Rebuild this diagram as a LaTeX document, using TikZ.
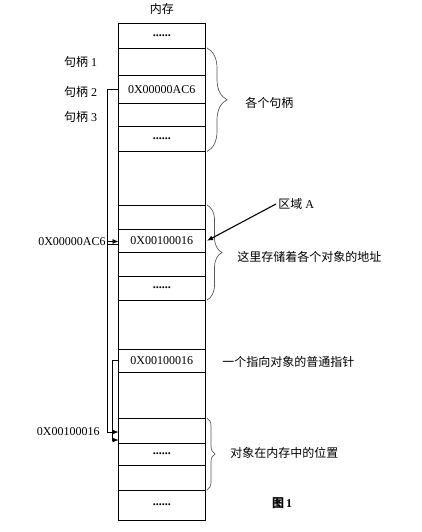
\documentclass[tikz,border=0pt]{standalone}
\usepackage{fontspec}
\setmainfont{Liberation Serif}
\newfontfamily\cjk{Noto Sans CJK SC}
\usetikzlibrary{positioning, decorations.pathreplacing, arrows.meta}

\tikzset{
	cell/.style={draw, minimum width=86.5bp, inner sep=0pt, outer sep=0pt, line width=0.8bp},
	lbl/.style={inner sep=2bp},
	brc/.style={decorate, decoration={brace, amplitude=#1}, draw=black!65, line width=0.7bp},
}

\begin{document}
\begin{tikzpicture}[x=1bp, y=-1bp, >={Latex[length=6bp, width=5bp]}, line width=0.8bp, node distance=0pt, font=\fontsize{12bp}{14bp}\selectfont]
	\useasboundingbox (0,0) rectangle (421,532);
	
	% memory column
	\node[cell, minimum height=25bp] (m1) at (161.75,35.5) {\textbf{......}};
	\node[cell, minimum height=27.5bp, below=of m1] (m2) {};
	\node[cell, minimum height=27.5bp, below=of m2] (m3) {0X00000AC6};
	\node[cell, minimum height=23bp, below=of m3] (m4) {};
	\node[cell, minimum height=25.5bp, below=of m4] (m5) {\textbf{......}};
	\node[cell, minimum height=53.5bp, below=of m5] (gap1) {};
	\node[cell, minimum height=24bp, below=of gap1] (a1) {};
	\node[cell, minimum height=23.5bp, below=of a1] (a2) {0X00100016};
	\node[cell, minimum height=23.5bp, below=of a2] (a3) {};
	\node[cell, minimum height=24bp, below=of a3] (a4) {\textbf{......}};
	\node[cell, minimum height=49bp, below=of a4] (gap2) {};
	\node[cell, minimum height=23bp, below=of gap2] (p1) {0X00100016};
	\node[cell, minimum height=46bp, below=of p1] (gap3) {};
	\node[cell, minimum height=25bp, below=of gap3] (o1) {};
	\node[cell, minimum height=22bp, below=of o1] (o2) {\textbf{......}};
	\node[cell, minimum height=25bp, below=of o2] (o3) {};
	\node[cell, minimum height=30bp, below=of o3] (o4) {\textbf{......}};
	
	\node[lbl, above=6bp of m1] (mem) {\cjk 内存};
	
	% handles
	\node[lbl, left=19bp of m2, yshift=-0.5bp] (h1) {{\cjk 句柄} 1};
	\node[lbl, left=19bp of m3, yshift=-3bp] (h2) {{\cjk 句柄} 2};
	\node[lbl, left=19bp of m4, yshift=-2bp] (h3) {{\cjk 句柄} 3};
	
	\node[lbl, anchor=east] (addrA) at (108,241.5) {0X00000AC6};
	\node[lbl, anchor=east] (addrO) at (102,431.7) {0X00100016};
	
	\draw[->] (m3.west) -- ++(-11.5,0) |- ([yshift=-14bp]o1.north west);
	\draw ([yshift=-4bp]a2.west) -- ++(-11.5,0);
	\draw[->] (addrA.east) -- (addrA.east -| a2.west);
	\draw[->] (p1.west) -- ++(-6.5,0) |- ([yshift=-22bp]o1.north west);
	
	% braces and notes
	\draw[brc=20bp] ([xshift=2bp]m2.north east) -- ([xshift=2bp]m5.south east);
	\draw[brc=15bp] ([xshift=2bp]a1.north east) -- ([xshift=2bp]a4.south east);
	\draw[brc=8bp] ([xshift=2bp]o1.north east) -- ([xshift=2bp]o3.south east);
	
	\node[lbl, anchor=west] (allH) at (243,102.5) {\cjk 各个句柄};
	\node[lbl, anchor=west] (regA) at (276,204) {{\cjk 区域} A};
	\node[lbl, anchor=west] (addrs) at (235,256.5) {\cjk 这里存储着各个对象的地址};
	\node[lbl, anchor=west] (ptrTxt) at (220,362) {\cjk 一个指向对象的普通指针};
	\node[lbl, anchor=west] (objPos) at (228,453) {\cjk 对象在内存中的位置};
	\node[lbl] (fig) at (282,503) {{\cjk\bfseries 图}\,\textbf{1}};
	
	\draw[->, line width=1.1bp] (regA.west) -- ([xshift=2bp]a2.east);
\end{tikzpicture}
\end{document}
